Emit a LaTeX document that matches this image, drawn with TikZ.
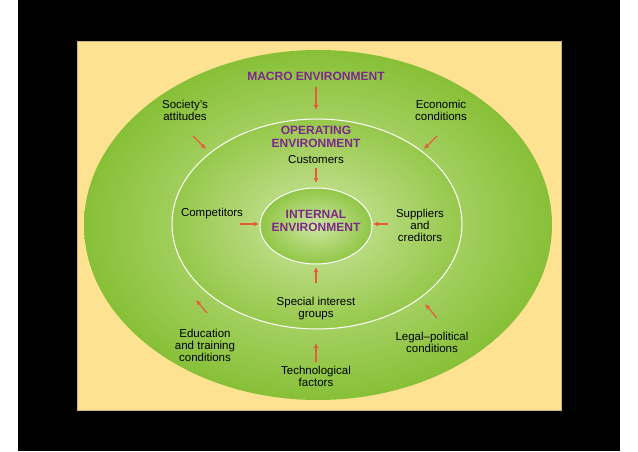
\documentclass[tikz,border=0pt]{standalone}
\usepackage{fontspec}
\setmainfont{Liberation Sans}
\usetikzlibrary{arrows.meta}
\begin{document}
\begin{tikzpicture}[x=1pt,y=-1pt,
  lbl/.style={font=\fontsize{11.5}{12}\selectfont,align=center,inner sep=0pt},
  ttl/.style={font=\bfseries\fontsize{12}{12.5}\selectfont,text={rgb,255:red,125;green,40;blue,140},align=center,inner sep=0pt},
  arr/.style={draw={rgb,255:red,232;green,90;blue,60},line width=1.2pt,-{Latex[length=5pt,width=5pt]}}]
\useasboundingbox (0,0) rectangle (638,452);
\fill[white] (0,0) rectangle (638,452);
\fill[black] (18,0) rectangle (620,451);
\fill[draw={rgb,255:red,200;green,180;blue,120},fill={rgb,255:red,253;green,226;blue,145}] (77,41) rectangle (561,410);
\shade[inner color={rgb,255:red,205;green,230;blue,155},outer color={rgb,255:red,135;green,192;blue,55}] (318,225) ellipse [x radius=234,y radius=175];
\shade[inner color={rgb,255:red,205;green,230;blue,160},outer color={rgb,255:red,150;green,200;blue,75}] (317,224) ellipse [x radius=145,y radius=105];
\draw[white,line width=1pt] (317,224) ellipse [x radius=145,y radius=105];
\shade[inner color={rgb,255:red,205;green,230;blue,160},outer color={rgb,255:red,145;green,198;blue,70}] (316,226) ellipse [x radius=56,y radius=38];
\draw[white,line width=1pt] (316,226) ellipse [x radius=56,y radius=38];
\node[ttl] (macro) at (316,76) {MACRO ENVIRONMENT};
\node[ttl] (oper) at (316,137) {OPERATING\\ENVIRONMENT};
\node[ttl] (int) at (316,221) {INTERNAL\\ENVIRONMENT};
\node[lbl] (soc) at (185,110) {Society's\\attitudes};
\node[lbl] (eco) at (441,110) {Economic\\conditions};
\node[lbl] (cust) at (316,160) {Customers};
\node[lbl] (comp) at (212,214) {Competitors};
\node[lbl] (sup) at (420,225) {Suppliers\\and\\creditors};
\node[lbl] (spec) at (316,309) {Special interest\\groups};
\node[lbl] (edu) at (205,345) {Education\\and training\\conditions};
\node[lbl] (leg) at (432,342) {Legal--political\\conditions};
\node[lbl] (tech) at (316,376) {Technological\\factors};
\coordinate (a1) at (316,110); \coordinate (a2) at (206,149); \coordinate (a3) at (424,149);
\coordinate (a4) at (316,183); \coordinate (a5) at (259,224); \coordinate (a6) at (373,224);
\coordinate (a7) at (316,267); \coordinate (a8) at (196,300); \coordinate (a9) at (425,304);
\coordinate (a10) at (316,343);
\draw[arr] (macro.south |- 0,87) -- (a1);
\draw[arr] (193,136) -- (a2);
\draw[arr] (437,136) -- (a3);
\draw[arr] (cust.south |- 0,168) -- (a4);
\draw[arr] (comp.east |- 0,224) ++(-3,0) -- (a5);
\draw[arr] (388,224) -- (a6);
\draw[arr] (spec.north |- 0,283) -- (a7);
\draw[arr] (207,313) -- (a8);
\draw[arr] (437,318) -- (a9);
\draw[arr] (tech.north |- 0,362) -- (a10);
\end{tikzpicture}
\end{document}
